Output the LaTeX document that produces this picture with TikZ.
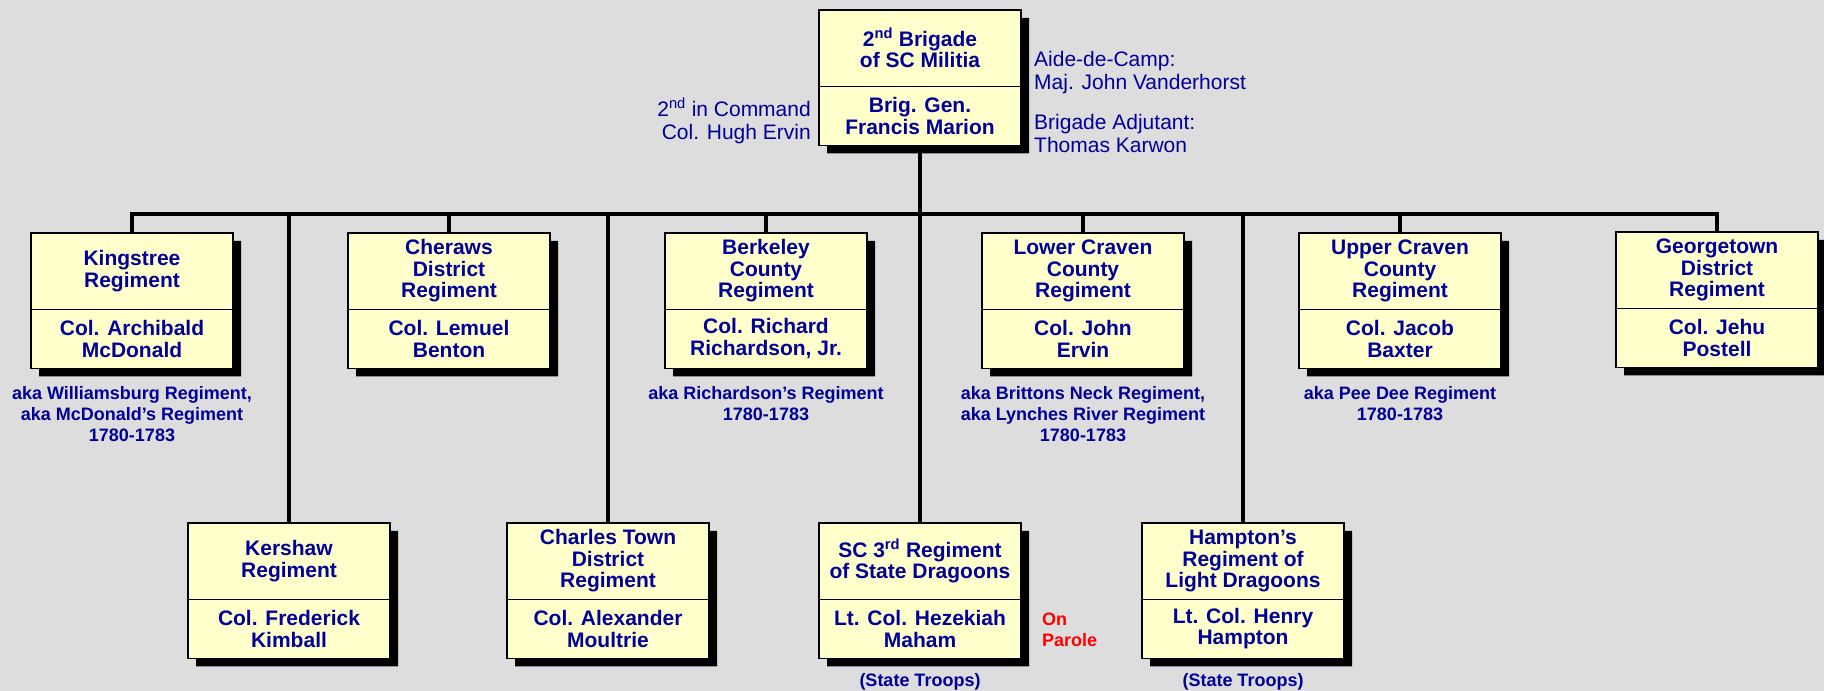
\documentclass[tikz,border=0pt]{standalone}
\usepackage{fontspec}
\setmainfont{Liberation Sans}
\usepackage{xcolor}
\usepackage{tikz}
\usetikzlibrary{positioning, shapes.multipart, shadows}

\definecolor{navy}{RGB}{0,0,153}
\definecolor{paper}{RGB}{221,221,221}
\definecolor{pale}{RGB}{255,255,204}

\tikzset{
  unit/.style={rectangle split, rectangle split parts=2, draw=black, line width=1.5pt,
    fill=pale, inner sep=0pt, text=navy, anchor=north,
    font=\fontsize{21}{21.5}\selectfont\bfseries,
    drop shadow={shadow xshift=8pt, shadow yshift=-8pt, fill=black, opacity=1}},
  link/.style={line width=4.5pt},
  note/.style={text=navy, font=\fontsize{18}{21}\selectfont\bfseries, align=center, inner sep=0pt},
  staff/.style={text=navy, font=\fontsize{21}{23}\selectfont, inner sep=0pt}
}
\newcommand{\unitname}[1]{\parbox[c][75pt][c]{202pt}{\centering #1}}
\newcommand{\chief}[1]{\parbox[c][57.5pt][c]{202pt}{\centering #1}}

\begin{document}
\begin{tikzpicture}[x=1pt, y=-1pt]
\path[use as bounding box, fill=paper] (0,0) rectangle (1824,691);
% Top: brigade and staff
\node[unit] (brigade) at (920,9) {\unitname{2\textsuperscript{nd} Brigade\\of SC Militia}\nodepart{two}\chief{Brig. Gen.\\Francis Marion}};
\node[staff, align=right, anchor=east] (second) at (811,121) {2\textsuperscript{nd} in Command\\Col. Hugh Ervin};
\node[staff, align=left, anchor=west] (aide) at (1034,72.5) {Aide-de-Camp:\\Maj. John Vanderhorst};
\node[staff, align=left, anchor=west] (adjutant) at (1034,133) {Brigade Adjutant:\\Thomas Karwon};
% Upper row
\node[unit] (kingstree) at (132,232) {\unitname{Kingstree\\Regiment}\nodepart{two}\chief{Col. Archibald\\McDonald}};
\node[unit] (cheraws) at (449,232) {\unitname{Cheraws\\District\\Regiment}\nodepart{two}\chief{Col. Lemuel\\Benton}};
\node[unit] (berkeley) at (766,232) {\unitname{Berkeley\\County\\Regiment}\nodepart{two}\chief{Col. Richard\\Richardson, Jr.}};
\node[unit] (lcraven) at (1083,232) {\unitname{Lower Craven\\County\\Regiment}\nodepart{two}\chief{Col. John\\Ervin}};
\node[unit] (ucraven) at (1400,232) {\unitname{Upper Craven\\County\\Regiment}\nodepart{two}\chief{Col. Jacob\\Baxter}};
\node[unit] (georgetown) at (1717,231) {\unitname{Georgetown\\District\\Regiment}\nodepart{two}\chief{Col. Jehu\\Postell}};
\node[note, below=17pt of kingstree] (kingstreenote) {aka Williamsburg Regiment,\\aka McDonald’s Regiment\\1780-1783};
\node[note, below=17pt of berkeley] (berkeleynote) {aka Richardson’s Regiment\\1780-1783};
\node[note, below=17pt of lcraven] (lcravennote) {aka Brittons Neck Regiment,\\aka Lynches River Regiment\\1780-1783};
\node[note, below=17pt of ucraven] (ucravennote) {aka Pee Dee Regiment\\1780-1783};
% Lower row
\node[unit] (kershaw) at (289,522) {\unitname{Kershaw\\Regiment}\nodepart{two}\chief{Col. Frederick\\Kimball}};
\node[unit] (charles) at (608,522) {\unitname{Charles Town\\District\\Regiment}\nodepart{two}\chief{Col. Alexander\\Moultrie}};
\node[unit] (sc3) at (920,522) {\unitname{SC 3\textsuperscript{rd} Regiment\\of State Dragoons}\nodepart{two}\chief{Lt. Col. Hezekiah\\Maham}};
\node[unit] (hampton) at (1243,522) {\unitname{Hampton’s\\Regiment of\\Light Dragoons}\nodepart{two}\chief{Lt. Col. Henry\\Hampton}};
\node[note, below=14pt of sc3] (sc3note) {(State Troops)};
\node[note, below=14pt of hampton] (hamptonnote) {(State Troops)};
\node[note, text=red, align=left, anchor=west] (parole) at (1042,630) {On\\Parole};
% Connectors
\coordinate (bus) at (920,214);
\draw[link, line cap=rect] (kingstree.north |- bus) -- (georgetown.north |- bus);
\draw[link] (brigade.south) -- (sc3.north);
\foreach \n in {kingstree,cheraws,berkeley,lcraven,ucraven,georgetown,kershaw,charles,hampton}
  \draw[link] (\n.north) -- (\n.north |- bus);
\end{tikzpicture}
\end{document}
